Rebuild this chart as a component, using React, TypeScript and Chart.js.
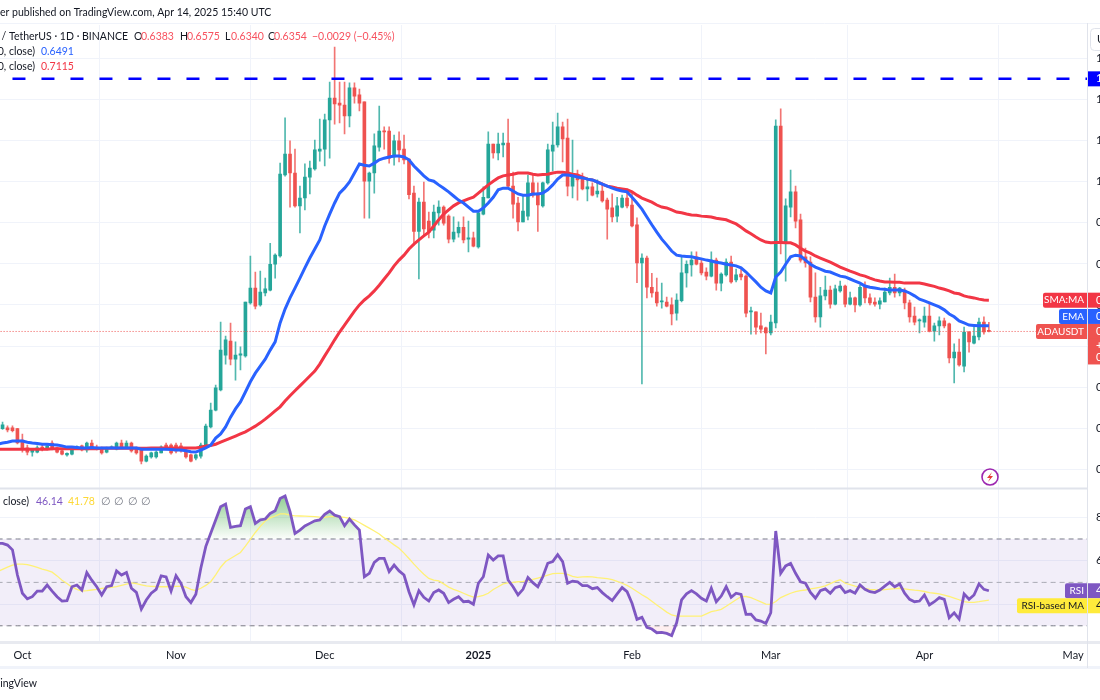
import React, { useEffect, useRef } from "react";
import { Chart, registerables } from "chart.js";

Chart.register(...registerables);

const FONT = 'Lato, "Open Sans", sans-serif';
const UP = "#26a69a";
const DOWN = "#ef5350";
const UP_WICK = "rgba(38,166,154,0.8)";
const DOWN_WICK = "rgba(239,83,80,0.8)";
const EMA_COLOR = "#2962ff";
const SMA_COLOR = "#f23645";
const RSI_COLOR = "#7e57c2";
const RSI_MA_COLOR = "#ffeb3b";

const monthNames = ["2025", "Feb", "Mar", "Apr", "May", "Jun", "Jul", "Aug", "Sep", "Oct", "Nov", "Dec"];

// every day from 26 Sep 2024, with room on the right up to 6 May 2025
const dayCount = 221;
const days = Array.from({ length: dayCount }, (_, i) => new Date(Date.UTC(2024, 8, 26 + i)));
const labels = days.map((d) => d.toISOString().slice(0, 10));
const monthStarts = days.map((d, i) => (d.getUTCDate() === 1 ? i : -1)).filter((i) => i >= 0);

const opens = [
  .410,.399,.401,.401,.399,.371,.352,.342,.342,.354,
  .349,.364,.352,.345,.335,.337,.352,.357,.347,.364,
  .354,.352,.342,.352,.349,.364,.354,.364,.352,.347,
  .320,.330,.330,.340,.359,.359,.359,.357,.347,.335,
  .327,.332,.359,.403,.444,.493,.578,.612,.568,.578,
  .576,.705,.741,.700,.729,.736,.799,.819,1.016,1.067,
  1.021,.941,.960,1.011,1.031,1.074,1.079,1.150,1.203,1.191,
  1.186,1.160,1.228,1.211,1.194,1.001,1.021,1.084,1.123,1.123,
  1.060,1.099,1.079,1.055,.972,.879,.950,.904,.882,.924,
  .938,.916,.860,.875,.889,.860,.863,.841,.921,.960,
  1.091,1.070,1.089,1.094,.989,.948,.902,.916,.997,.972,
  .941,.997,1.074,1.089,1.133,1.106,.989,1.009,1.006,.982,
  .987,.970,.977,.955,.936,.916,.938,.960,.943,.895,
  .802,.814,.743,.731,.707,.707,.700,.680,.710,.778,
  .797,.817,.802,.780,.770,.809,.753,.773,.804,.761,
  .775,.770,.683,.683,.649,.644,.632,.656,1.135,.853,
  .938,.975,.907,.817,.804,.719,.671,.722,.736,.702,
  .734,.746,.702,.717,.700,.743,.717,.707,.702,.707,
  .729,.743,.729,.736,.705,.673,.661,.658,.673,.636,
  .649,.661,.654,.571,.585,.551,.634,.607,.622,.658,
  .6383,
];

const highs = [
  .415,.415,.406,.406,.400,.386,.359,.349,.357,.359,
  .362,.369,.354,.347,.340,.354,.357,.359,.366,.371,
  .359,.354,.354,.357,.366,.371,.369,.366,.354,.349,
  .335,.342,.345,.357,.364,.362,.364,.364,.349,.337,
  .337,.364,.410,.461,.505,.658,.624,.656,.610,.598,
  .707,.819,.780,.782,.765,.850,.824,1.045,1.155,1.099,
  1.079,.989,1.043,1.050,1.101,1.152,1.164,1.242,1.327,1.242,
  1.242,1.240,1.240,1.225,1.194,1.023,1.116,1.184,1.133,1.133,
  1.113,1.121,1.113,1.055,.989,.960,.999,.926,.943,.953,
  .941,.919,.914,.902,.914,.904,.877,.926,.987,1.121,
  1.091,1.118,1.118,1.152,1.023,.962,.967,1.016,1.016,.997,
  .999,1.091,1.145,1.167,1.145,1.152,1.101,1.028,1.021,1.009,
  .997,1.004,.997,.960,.970,.962,.967,.982,.972,.912,
  .824,.819,.777,.765,.753,.719,.717,.727,.817,.807,
  .829,.829,.812,.790,.829,.814,.778,.812,.819,.787,
  .787,.773,.695,.683,.680,.646,.675,1.150,1.177,.958,
  1.028,.989,.921,.838,.817,.778,.743,.770,.746,.748,
  .758,.748,.731,.719,.748,.756,.727,.717,.717,.741,
  .765,.775,.743,.741,.712,.695,.666,.695,.707,.656,
  .671,.668,.656,.605,.617,.646,.636,.646,.668,.671,
  .6575,
];

const lows = [
  .403,.397,.391,.391,.362,.342,.335,.332,.340,.345,
  .347,.347,.340,.335,.332,.335,.350,.345,.342,.349,
  .347,.337,.340,.350,.347,.352,.352,.342,.337,.313,
  .318,.327,.327,.340,.347,.337,.340,.342,.327,.318,
  .323,.327,.357,.401,.442,.491,.556,.554,.517,.542,
  .573,.702,.690,.697,.722,.734,.765,.816,1.013,.938,
  .938,.875,.931,.970,1.028,1.050,1.038,1.057,1.140,1.143,
  1.116,1.133,1.191,1.172,.911,.911,.972,1.074,1.079,1.045,
  1.040,1.048,1.043,.958,.846,.763,.870,.863,.863,.894,
  .894,.851,.853,.865,.851,.829,.841,.838,.919,.960,
  1.057,1.053,1.060,.987,.911,.880,.902,.907,.962,.879,
  .938,.994,1.026,1.084,1.048,.965,.960,.955,.980,.953,
  .965,.962,.950,.860,.902,.902,.936,.936,.890,.754,
  .508,.717,.719,.697,.692,.695,.651,.663,.707,.743,
  .770,.797,.773,.761,.768,.736,.734,.770,.753,.756,
  .761,.671,.629,.629,.632,.581,.627,.644,.824,.758,
  .914,.887,.804,.792,.707,.658,.646,.712,.692,.700,
  .731,.695,.700,.683,.697,.705,.700,.697,.690,.707,
  .724,.719,.722,.690,.658,.651,.632,.646,.634,.612,
  .627,.644,.559,.510,.551,.537,.585,.605,.615,.629,
  .6340,
];

const closes = [
  .412,.408,.396,.394,.364,.349,.342,.347,.352,.349,
  .357,.349,.342,.337,.339,.352,.354,.347,.364,.352,
  .349,.340,.352,.355,.364,.354,.364,.345,.340,.320,
  .332,.340,.342,.354,.352,.340,.345,.345,.330,.320,
  .335,.359,.405,.444,.498,.590,.615,.568,.578,.581,
  .707,.741,.697,.731,.739,.799,.821,1.018,1.067,1.021,
  .941,.960,1.011,1.033,1.077,1.079,1.150,1.203,1.189,1.186,
  1.160,1.228,1.208,1.191,1.001,1.021,1.087,1.123,1.121,1.057,
  1.099,1.077,1.053,.968,.879,.950,.885,.877,.926,.938,
  .899,.860,.877,.889,.858,.863,.843,.924,.962,1.091,
  1.070,1.091,1.094,.989,.945,.902,.928,.997,.967,.943,
  .997,1.077,1.089,1.133,1.104,.989,1.011,1.004,.982,.987,
  .967,.977,.953,.933,.914,.941,.960,.941,.892,.802,
  .814,.743,.729,.705,.710,.697,.678,.712,.778,.799,
  .809,.799,.778,.770,.809,.753,.775,.804,.756,.773,
  .768,.680,.684,.646,.641,.632,.658,1.135,.853,.941,
  .975,.904,.809,.802,.719,.671,.722,.736,.702,.739,
  .746,.702,.717,.700,.743,.717,.705,.702,.710,.731,
  .743,.729,.741,.705,.671,.658,.662,.673,.636,.649,
  .661,.649,.571,.585,.554,.634,.610,.624,.658,.634,
  .6354,
];

const ema = [
  .361,.364,.366,.369,.369,.369,.366,.364,.363,.361,
  .361,.360,.359,.357,.354,.354,.353,.352,.352,.353,
  .352,.352,.352,.352,.352,.352,.352,.352,.352,.349,
  .349,.349,.349,.349,.349,.348,.347,.347,.345,.343,
  .342,.347,.352,.359,.376,.386,.403,.427,.447,.464,
  .488,.513,.534,.551,.568,.590,.610,.656,.690,.717,
  .741,.765,.790,.814,.836,.858,.892,.921,.948,.972,
  .984,.999,1.021,1.043,1.040,1.038,1.045,1.053,1.057,1.060,
  1.062,1.062,1.060,1.053,1.038,1.026,1.014,1.004,1.001,.992,
  .984,.975,.965,.955,.948,.938,.928,.928,.936,.948,
  .962,.980,.984,.984,.977,.970,.967,.967,.970,.970,
  .972,.980,.992,1.006,1.016,1.016,1.014,1.011,1.009,1.006,
  1.004,.999,.994,.989,.984,.980,.977,.975,.962,.948,
  .933,.914,.895,.877,.860,.846,.831,.821,.819,.818,
  .817,.814,.812,.809,.807,.804,.802,.799,.797,.795,
  .790,.780,.768,.756,.743,.734,.729,.768,.780,.799,
  .817,.821,.819,.809,.799,.792,.787,.782,.780,.775,
  .770,.768,.763,.758,.753,.746,.743,.741,.739,.738,
  .736,.736,.736,.734,.729,.722,.714,.710,.705,.700,
  .695,.688,.678,.671,.661,.656,.651,.650,.649,.649,
  .6491,
];

const sma = [
  .349,.349,.349,.349,.349,.349,.349,.349,.349,.349,
  .349,.350,.350,.350,.350,.350,.350,.350,.350,.350,
  .350,.351,.351,.351,.351,.351,.351,.351,.351,.351,
  .351,.352,.352,.352,.352,.352,.352,.352,.352,.352,
  .352,.354,.357,.358,.361,.366,.371,.376,.381,.386,
  .391,.398,.405,.413,.422,.432,.442,.452,.466,.479,
  .491,.503,.515,.527,.539,.556,.576,.595,.615,.634,
  .651,.668,.685,.700,.712,.722,.734,.748,.763,.778,
  .795,.809,.821,.836,.848,.858,.868,.877,.892,.907,
  .921,.931,.941,.948,.953,.958,.962,.972,.982,.992,
  1.001,1.009,1.014,1.016,1.018,1.021,1.021,1.021,1.018,1.016,
  1.017,1.018,1.021,1.023,1.023,1.021,1.018,1.016,1.011,1.006,
  1.004,.999,.994,.989,.987,.984,.982,.980,.975,.967,
  .960,.955,.950,.943,.938,.936,.931,.926,.924,.921,
  .919,.918,.916,.915,.914,.911,.909,.907,.902,.897,
  .889,.880,.873,.865,.858,.853,.851,.852,.852,.851,
  .851,.846,.838,.831,.826,.819,.814,.809,.804,.798,
  .792,.787,.782,.778,.773,.770,.765,.761,.758,.756,
  .756,.755,.755,.753,.753,.753,.753,.751,.748,.745,
  .741,.738,.734,.729,.727,.722,.719,.717,.714,.712,
  .7115,
];

const rsi = [
  68,68,67.2,65,53.4,45,42.4,43.4,46,46,
  48.8,46,43.4,41.4,41.6,48,48.8,46.5,54.5,51,
  48,44.2,48,48.5,55.3,53.4,54.6,47.3,45.4,37.7,
  41.9,45,46.8,53,52.5,46,53.1,49.6,43.4,40.7,
  44.5,56.5,66.5,72.6,78.8,84.9,86.1,75.4,75.8,76.1,
  83.8,84.9,77.2,78.8,79.2,81.8,83,88.7,89.8,82.6,
  72.6,74.1,76,77.2,78.4,78.8,81.4,82.9,81,80.3,
  76.1,79.2,76.5,74.1,52.6,54.2,59.2,61.1,61.1,55,
  58,55.3,53.4,45.7,39.6,46.2,43.1,41.4,45.3,46.5,
  45,40.7,42.2,43.4,41.1,41.3,39.9,49.6,52.6,62.6,
  60.3,62.2,62.2,51.1,48,44.2,46.8,52.3,49.9,48,
  52.6,58.8,59.6,62.8,59.6,49.6,50.6,50.3,48.5,48.5,
  47.1,47.6,45.3,43.4,41.6,44.7,47.6,45.7,40.4,33,
  33.9,29.3,28.5,26.8,27,26.5,25.5,31.4,41.9,44.7,
  46.2,44.7,42.7,41.4,47.3,41.1,43.7,48,43.1,45,
  44.5,35.3,35.4,32.7,32.2,31.1,36,73.7,54.2,57.6,
  58.8,54.2,50.3,49.6,45.4,42.7,46.2,47,45,47.6,
  48.3,45.3,46.2,45,48.8,46.8,45.7,45.3,46.5,48.3,
  50,48,49.3,45,42.2,41.1,41.4,44.2,39.6,41.1,
  43,42.2,33.7,36,33.1,44.7,42.2,44.2,49.3,46.8,
  46.14,
];

const rsiMa = [
  55,56,57,58,58.4,58.4,58.2,57.6,56.9,56.1,
  55.5,54.7,53,51,49.5,47.8,46.8,46,46.2,46.5,
  46.8,47.2,47.5,47.7,48,48.6,49.2,49.8,49.4,48.9,
  48.4,48.2,48.1,48,48,48.1,48.2,48.3,47.8,46.8,
  46.2,47.3,48.6,50.3,53.5,57,59.6,61,62.4,63.8,
  66.7,69.8,73,75.8,78.3,79.7,80.6,81.6,81.6,81,
  80.7,80.6,80.5,80.4,80.3,80.1,80,80.3,80.4,80.2,
  80,79.5,78.8,77.6,76.3,75,73.7,72.3,70.5,69,
  67.3,65.7,63.5,61,58.4,56,53.8,51.8,51,50.7,
  49.3,47.8,46.8,46,45,44,43.2,43.4,44,45,
  46.7,48,49.3,49.8,50,50.3,50.5,50.8,51.4,52,
  52.6,53.4,54,54.2,54.2,53.7,52.8,52.3,52.5,52.6,
  52.5,52.2,52,51.7,51.3,50.5,49.6,48.6,47.3,45.8,
  44.3,43,41.3,39.6,38,36.3,35,34.5,34.5,34.5,
  34.5,34.5,34.5,35.5,36.5,37,37.6,39,40.5,42,
  43.4,43.5,43,42,41,40,39.9,41.2,43,44,
  45,45.7,46.2,46.5,47,47.4,47.8,48.4,49.4,50.5,
  51.2,49.6,49,48.3,47.7,47.2,46.8,46.6,46.5,46.7,
  46.9,47.1,47.3,47,46.7,46.4,46.2,45.8,45.3,45,
  44.7,44.1,43.5,42.8,42,41.1,40.8,40.8,41.1,41.5,
  41.78,
];

const resistance = 1.25;
const lastClose = 0.6354;
const last = opens.length - 1;

const candleColors = closes.map((c, i) => (c >= opens[i] ? UP : DOWN));
const wickColors = closes.map((c, i) => (c >= opens[i] ? UP_WICK : DOWN_WICK));
const hline = (v: number, from = 0) => labels.map((_, i) => (i < from ? null : v));

// the photographed frame is a crop of a wider chart, so the canvas runs past both edges
const CANVAS_SHIFT = 60;

const overlay = {
  id: "overlay",
  beforeDraw(chart: any) {
    const { ctx } = chart;
    ctx.save();
    ctx.fillStyle = "#ffffff";
    ctx.fillRect(0, 0, chart.width, chart.height);
    ctx.restore();
  },
  afterDraw(chart: any) {
    const { ctx, scales } = chart;
    ctx.save();
    ctx.translate(CANVAS_SHIFT, 0);

    const rule = (x0: number, y0: number, x1: number, y1: number, color: string, w: number) => {
      ctx.strokeStyle = color;
      ctx.lineWidth = w;
      ctx.beginPath();
      ctx.moveTo(x0, y0);
      ctx.lineTo(x1, y1);
      ctx.stroke();
    };
    rule(-2, 23.5, 1100, 23.5, "#f0f3fa", 1);
    rule(-2, 488.5, 1088, 488.5, "#e0e3eb", 2);
    rule(-2, 642.5, 1100, 642.5, "#e8eaf0", 3);
    rule(-2, 667.5, 1100, 667.5, "#f0f3fa", 3);
    rule(1087.5, 23, 1087.5, 668, "#e0e3eb", 1);

    const text = (s: string, x: number, y: number, color: string, size = 10.5, align = "left") => {
      ctx.font = `${size}px ${FONT}`;
      ctx.fillStyle = color;
      ctx.textAlign = align;
      ctx.textBaseline = "middle";
      ctx.fillText(s, x, y);
    };

    text("er published on TradingView.com, Apr 14, 2025 15:40 UTC", 0, 13, "#131722");
    text("TradingView", 37, 684, "#131722", 10.5, "right");

    const ink = "#131722";
    const red = "#f7525f";
    text("Cardano / TetherUS · 1D · BINANCE", 128, 37, ink, 10.5, "right");
    text("O", 134, 37, ink);
    text("0.6383", 141, 37, red);
    text("H", 180, 37, ink);
    text("0.6575", 187, 37, red);
    text("L", 225, 37, ink);
    text("0.6340", 231, 37, red);
    text("C", 268, 37, ink);
    text("0.6354", 274, 37, red);
    text("−0.0029 (−0.45%)", 312, 37, red);
    text("EMA (20, close)", 35, 52, ink, 10.5, "right");
    text("0.6491", 41, 52, EMA_COLOR);
    text("SMA (50, close)", 35, 67, ink, 10.5, "right");
    text("0.7115", 41, 67, SMA_COLOR);

    text("RSI (14, close)", 29, 502, ink, 10.5, "right");
    text("46.14", 36, 502, RSI_COLOR);
    text("41.78", 68, 502, "#fdd835");
    ["∅", "∅", "∅", "∅"].forEach((s, i) => text(s, 101 + i * 13.3, 502, "#787b86"));

    // labels on the price axis, sitting over the tick labels as in the original
    const tag = (cy: number, name: string, value: string, bg: string, left: number, fg = "#ffffff", h = 15) => {
      if (name) {
        ctx.fillStyle = bg;
        ctx.beginPath();
        ctx.roundRect(left, cy - h / 2, 1087 - left, h, [2, 0, 0, 2]);
        ctx.fill();
        text(name, 1084, cy, fg, 10, "right");
      }
      ctx.fillStyle = bg;
      ctx.fillRect(1088, cy - h / 2, 50, h);
      text(value, 1096, cy, fg, 11);
    };
    const price = scales.y;
    const osc = scales.rsi;
    const closeY = price.getPixelForValue(lastClose);
    tag(price.getPixelForValue(resistance), "", "1.25", "#0000ff", 0);
    tag(price.getPixelForValue(sma[last]), "SMA:MA", "0.7115", SMA_COLOR, 1043);
    tag(closeY - 15, "EMA", "0.6491", EMA_COLOR, 1059);
    ctx.fillStyle = DOWN;
    ctx.fillRect(1088, closeY - 7, 50, 40);
    tag(closeY, "ADAUSDT", "0.6354", DOWN, 1036);
    text("+0.0000", 1096, closeY + 14, "#ffffff", 11);
    text("0.00%", 1096, closeY + 26, "#ffffff", 11);

    const rsiY = osc.getPixelForValue(rsi[last]);
    tag(rsiY, "RSI", "46.14", RSI_COLOR, 1065);
    tag(rsiY + 15, "RSI-based MA", "41.78", RSI_MA_COLOR, 1017, "#131722");

    // scale button in the top right corner
    ctx.fillStyle = "#ffffff";
    ctx.strokeStyle = "#e0e3eb";
    ctx.lineWidth = 1;
    ctx.beginPath();
    ctx.roundRect(1090.5, 28.5, 50, 22, 4);
    ctx.fill();
    ctx.stroke();
    text("USDT", 1097, 39, ink, 11);

    // lightning badge
    ctx.strokeStyle = "#9c27b0";
    ctx.lineWidth = 1.6;
    ctx.beginPath();
    ctx.arc(990, 477, 8, 0, Math.PI * 2);
    ctx.stroke();
    ctx.fillStyle = "#e53935";
    ctx.beginPath();
    ctx.moveTo(992, 472);
    ctx.lineTo(987, 478);
    ctx.lineTo(990, 478);
    ctx.lineTo(988, 482);
    ctx.lineTo(993, 476);
    ctx.lineTo(990, 476);
    ctx.closePath();
    ctx.fill();

    ctx.restore();
  },
};

export default function App() {
  const canvasRef = useRef<HTMLCanvasElement>(null);

  useEffect(() => {
    const canvas = canvasRef.current;
    if (!canvas) return;
    const ctx = canvas.getContext("2d");
    if (!ctx) return;

    const overbought = ctx.createLinearGradient(0, 497, 0, 539);
    overbought.addColorStop(0, "rgba(76,175,80,0.6)");
    overbought.addColorStop(1, "rgba(76,175,80,0.02)");

    const bar = { grouped: false, yAxisID: "y", order: 5, categoryPercentage: 1, barPercentage: 1 };
    const thin = { type: "line" as const, pointRadius: 0, tension: 0, fill: false };

    const chart = new Chart(ctx, {
      type: "bar",
      data: {
        labels,
        datasets: [
          { ...bar, label: "wick", data: lows.map((l, i) => [l, highs[i]]), backgroundColor: wickColors, barThickness: 1 },
          { ...bar, label: "body", data: opens.map((o, i) => [o, closes[i]]), backgroundColor: candleColors, barThickness: 3, minBarLength: 1 },
          { ...thin, label: "SMA", data: sma, yAxisID: "y", borderColor: SMA_COLOR, borderWidth: 3, order: 2 },
          { ...thin, label: "EMA", data: ema, yAxisID: "y", borderColor: EMA_COLOR, borderWidth: 3, order: 1 },
          { ...thin, label: "level", data: hline(resistance, 3), yAxisID: "y", borderColor: "#0000ff", borderWidth: 2.5, borderDash: [13, 16], order: 3 },
          { ...thin, label: "last", data: hline(lastClose), yAxisID: "y", borderColor: "#ef5350", borderWidth: 1, borderDash: [1, 2], order: 4 },
          { ...thin, label: "upper", data: hline(70), yAxisID: "rsi", borderColor: "#787b86", borderWidth: 1, borderDash: [5, 4], order: 14 },
          { ...thin, label: "lower", data: hline(30), yAxisID: "rsi", borderColor: "#787b86", borderWidth: 1, borderDash: [5, 4], fill: "-1", backgroundColor: "rgba(126,87,194,0.1)", order: 13 },
          { ...thin, label: "mid", data: hline(50), yAxisID: "rsi", borderColor: "rgba(120,123,134,0.6)", borderWidth: 1, borderDash: [5, 4], order: 12 },
          { ...thin, label: "over", data: rsi, yAxisID: "rsi", borderWidth: 0, borderColor: "transparent", fill: { target: { value: 70 }, above: overbought, below: "transparent" }, order: 11 },
          { ...thin, label: "under", data: rsi, yAxisID: "rsi", borderWidth: 0, borderColor: "transparent", fill: { target: { value: 30 }, above: "transparent", below: "rgba(242,54,69,0.08)" }, order: 10 },
          { ...thin, label: "RSI MA", data: rsiMa, yAxisID: "rsi", borderColor: "#fff176", borderWidth: 1.3, order: 8 },
          { ...thin, label: "RSI", data: rsi, yAxisID: "rsi", borderColor: RSI_COLOR, borderWidth: 2.8, order: 7 },
        ] as any,
      },
      options: {
        responsive: false,
        animation: false,
        devicePixelRatio: 1,
        events: [],
        layout: { padding: { left: CANVAS_SHIFT - 2.4, top: 25, right: 0, bottom: 36 } },
        plugins: { legend: { display: false }, tooltip: { enabled: false } },
        scales: {
          x: {
            offset: false,
            grid: { color: "#f0f3fa", drawTicks: false },
            border: { display: false },
            afterBuildTicks: (scale: any) => {
              scale.ticks = monthStarts.map((value) => ({ value }));
            },
            afterFit: (scale: any) => {
              scale.height = 22;
            },
            ticks: {
              autoSkip: false,
              maxRotation: 0,
              padding: 7,
              color: "#131722",
              font: (c: any) => ({ family: FONT, size: 11, weight: c.tick?.label === "2025" ? "bold" : "normal" }),
              callback: (value: any) => monthNames[days[value].getUTCMonth()],
            },
          },
          y: {
            type: "linear",
            position: "right",
            stack: "panes",
            stackWeight: 464,
            min: 0.2521,
            max: 1.381,
            grid: { color: "#f0f3fa", drawTicks: false },
            border: { display: false },
            afterFit: (scale: any) => {
              scale.width = 72;
            },
            ticks: {
              stepSize: 0.1,
              includeBounds: false,
              padding: 8,
              color: "#131722",
              font: { family: FONT, size: 11.5 },
              callback: (v: any) => Number(v).toFixed(2),
            },
          },
          rsi: {
            type: "linear",
            position: "right",
            stack: "panes",
            stackWeight: 153,
            min: 22.53,
            max: 93.04,
            grid: { color: "#f0f3fa", drawTicks: false },
            border: { display: false },
            afterFit: (scale: any) => {
              scale.width = 72;
            },
            ticks: {
              stepSize: 20,
              includeBounds: false,
              padding: 8,
              color: "#131722",
              font: { family: FONT, size: 11.5 },
              callback: (v: any) => Number(v).toFixed(2),
            },
          },
        },
      } as any,
      plugins: [overlay],
    });

    return () => {
      chart.destroy();
    };
  }, []);

  return (
    <div style={{ position: "fixed", left: 0, top: 0, width: 1100, height: 700, overflow: "hidden", background: "#fff" }}>
      <canvas ref={canvasRef} width={1220} height={700} style={{ position: "absolute", left: -CANVAS_SHIFT, top: 0 }} />
    </div>
  );
}
